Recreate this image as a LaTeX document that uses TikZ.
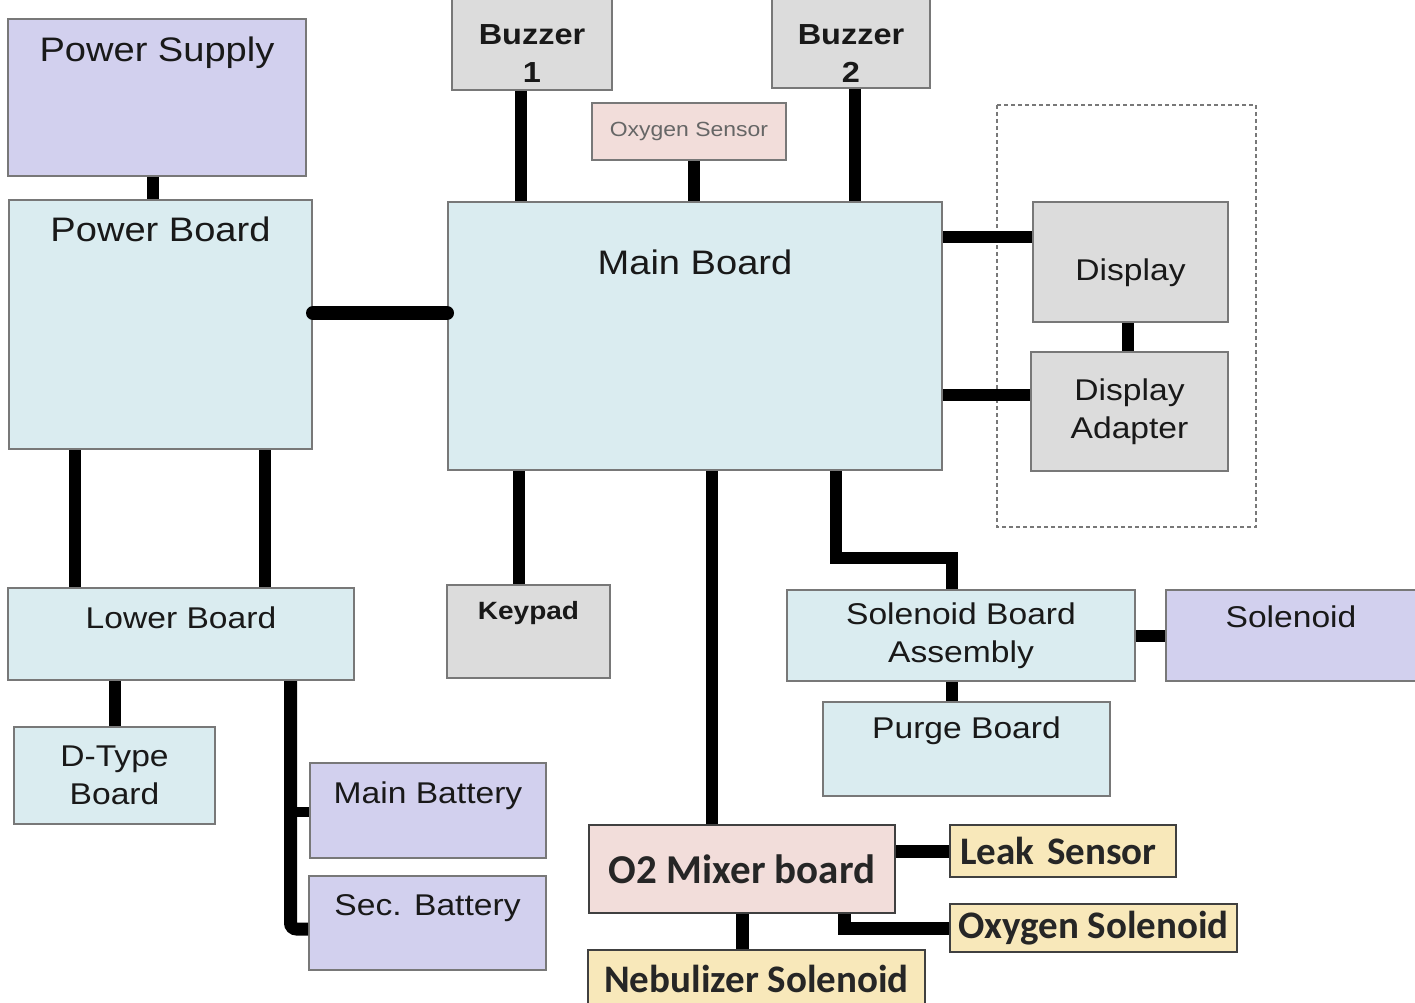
\documentclass[tikz,border=0pt]{standalone}
\usepackage{fontspec}
\setmainfont[FakeStretch=1.12]{Liberation Sans}
\newfontfamily\calfont{Carlito}
\definecolor{lavender}{RGB}{210,208,238}
\definecolor{paleblue}{RGB}{218,236,240}
\definecolor{boxgray}{RGB}{220,220,220}
\definecolor{blush}{RGB}{242,221,218}
\definecolor{sand}{RGB}{248,232,186}
\definecolor{edgegray}{RGB}{120,120,120}
\definecolor{inkgray}{RGB}{25,25,25}
\begin{document}
\begin{tikzpicture}[x=1pt,y=-1pt,
			box/.style={draw=edgegray,line width=2pt,inner sep=0pt,align=center,text=inkgray,font=\fontsize{30}{38}\selectfont},
			dims/.style 2 args={minimum width=#1pt,minimum height=#2pt},
			lav/.style={box,fill=lavender},
			pale/.style={box,fill=paleblue},
			grey/.style={box,fill=boxgray},
			mix/.style={draw=black!75,line width=2pt,inner sep=0pt,fill=blush,text=black!85,font=\calfont\bfseries\fontsize{39}{45}\selectfont},
			tag/.style={mix,fill=sand},
			toplab/.style={anchor=north,inner sep=0pt,yshift=#1,align=center,text=inkgray,font=\fontsize{30}{38}\selectfont},
			big/.style={font=\fontsize{34}{40}\selectfont},
			buzz/.style={font=\bfseries\fontsize{29}{38}\selectfont},
			wire/.style={line width=12pt}]
			\useasboundingbox (0,0) rectangle (1415,1003);
			% display group
			\draw[edgegray,line width=1.5pt,dash pattern=on 4pt off 3pt] (997,105) rectangle (1256,527);
			% boards and parts
			\node[lav,dims={298}{157},label={[toplab=-19pt,big]north:Power Supply}] (ps) at (157,97.5) {};
			\node[pale,dims={303}{249},label={[toplab=-18pt,big]north:Power Board}] (pb) at (160.5,324.5) {};
			\node[pale,dims={494}{268},label={[toplab=-49pt,big]north:Main Board}] (mb) at (695,336) {};
			\node[grey,dims={160}{96},label={[toplab=-31pt,buzz]north:Buzzer\\1}] (bz1) at (532,42) {};
			\node[grey,dims={158}{94},label={[toplab=-31pt,buzz]north:Buzzer\\2}] (bz2) at (851,41) {};
			\node[box,fill=blush,dims={194}{57},text=black!60,font=\fontsize{20.5}{24}\selectfont] (oxs) at (689,131.5) {Oxygen Sensor};
			\node[grey,dims={195}{120},label={[toplab=-58pt]north:Display}] (disp) at (1130.5,262) {};
			\node[grey,dims={197}{119}] (adap) at (1129.5,411.5) {Display\\Adapter};
			\node[pale,dims={346}{92},label={[toplab=-20pt]north:Lower Board}] (lb) at (181,634) {};
			\node[pale,dims={201}{97}] (dt) at (114.5,775.5) {D-Type\\Board};
			\node[lav,dims={236}{95},label={[toplab=-20pt]north:Main Battery}] (mbat) at (428,810.5) {};
			\node[lav,dims={237}{94},label={[toplab=-19pt]north:Sec. Battery}] (sbat) at (427.5,923) {};
			\node[grey,dims={163}{93},label={[toplab=-17pt,font=\bfseries\fontsize{25}{30}\selectfont]north:Keypad}] (kp) at (528.5,631.5) {};
			\node[pale,dims={348}{91}] (sba) at (961,635.5) {Solenoid Board\\Assembly};
			\node[lav,dims={250}{91},label={[toplab=-17pt]north:Solenoid}] (sol) at (1291,635.5) {};
			\node[pale,dims={287}{94},label={[toplab=-16pt]north:Purge Board}] (pg) at (966.5,749) {};
			\node[mix,dims={306}{88},font=\calfont\bfseries\fontsize{41}{46}\selectfont] (o2) at (742,869) {O2 Mixer board};
			\node[tag,dims={226}{52},text width=206pt,align=left] (leak) at (1063,851) {Leak Sensor};
			\node[tag,dims={287}{48}] (oxsol) at (1093.5,928) {Oxygen Solenoid};
			\node[tag,dims={337}{58}] (neb) at (756.5,979) {Nebulizer Solenoid};
			% connections
			\draw[wire] ([xshift=-4pt]ps.south) -- ([xshift=-4pt]ps.south |- pb.north);
			\draw[wire,line width=14pt,line cap=round] ([yshift=11.5pt]pb.east) -- ([yshift=11.5pt]pb.east -| mb.west);
			\draw[wire] ([xshift=-11pt]bz1.south) -- ([xshift=-11pt]bz1.south |- mb.north);
			\draw[wire] ([xshift=5pt]oxs.south) -- ([xshift=5pt]oxs.south |- mb.north);
			\draw[wire] ([xshift=4pt]bz2.south) -- ([xshift=4pt]bz2.south |- mb.north);
			\draw[wire] ([yshift=25pt]disp.west -| mb.east) -- ([yshift=25pt]disp.west);
			\draw[wire] ([yshift=16.5pt]adap.west -| mb.east) -- ([yshift=16.5pt]adap.west);
			\draw[wire] ([xshift=-3pt]disp.south) -- ([xshift=-3pt]disp.south |- adap.north);
			\draw[wire] ([xshift=-85.5pt]pb.south) -- ([xshift=-85.5pt]pb.south |- lb.north);
			\draw[wire] ([xshift=104.5pt]pb.south) -- ([xshift=104.5pt]pb.south |- lb.north);
			\draw[wire] (dt.north) -- (dt.north |- lb.south);
			\coordinate (bus) at ([xshift=109.5pt]lb.south);
			\draw[wire,line width=13pt,rounded corners=6pt] (bus) |- ([yshift=-6pt]sbat.west);
			\draw[wire,line width=10pt] ([yshift=-1.5pt]mbat.west) -- ([yshift=-1.5pt]mbat.west -| bus);
			\draw[wire] ([xshift=-9.5pt]kp.north) -- ([xshift=-9.5pt]kp.north |- mb.south);
			\draw[wire] ([xshift=-30pt]o2.north) -- ([xshift=-30pt]o2.north |- mb.south);
			\draw[wire] ([xshift=141pt]mb.south) -- ++(0,87) -| ([xshift=-9pt]sba.north);
			\draw[wire] (sba.east) -- (sol.west);
			\draw[wire] ([xshift=-9pt]sba.south) -- ([xshift=-9pt]sba.south |- pg.north);
			\draw[wire,line width=13pt] (o2.east |- leak.west) -- (leak.west);
			\draw[wire,line width=13pt] ([xshift=102pt]o2.south) |- (oxsol.west);
			\draw[wire,line width=13pt] (o2.south) -- (o2.south |- neb.north);
		\end{tikzpicture}
\end{document}
